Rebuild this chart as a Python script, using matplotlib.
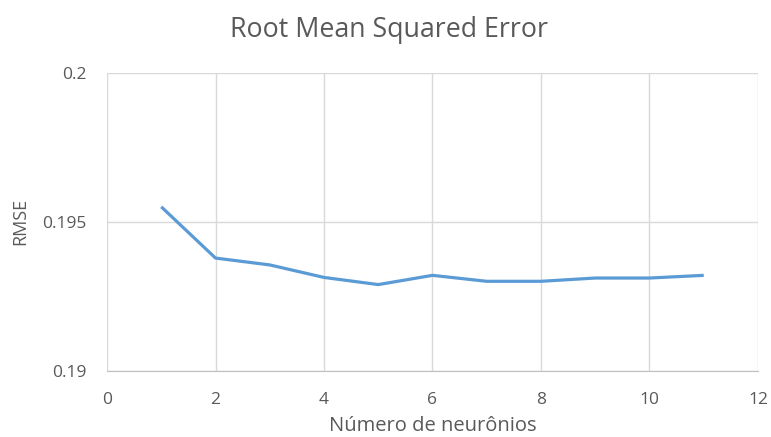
import matplotlib.pyplot as plt

neurons = [1, 2, 3, 4, 5, 6, 7, 8, 9, 10, 11]
rmse = [0.1955, 0.19378, 0.19355, 0.19313, 0.19289, 0.19320, 0.19300, 0.19300, 0.19311, 0.19311, 0.19320]

x_ticks = [0, 2, 4, 6, 8, 10, 12]
y_ticks = [0.19, 0.195, 0.2]
y_labels = ['0.19', '0.195', '0.2']

plt.rcParams['font.family'] = ['Open Sans', 'DejaVu Sans']
text_color = '#595959'
grid_color = '#d9d9d9'

fig = plt.figure(figsize=(7.71, 4.37), dpi=100)
ax = fig.add_axes([0.1388, 0.1517, 0.8443, 0.6819])

ax.plot(neurons, rmse, color='#5b9bd5', linewidth=2.3, solid_capstyle='butt')

ax.set_xlim(0, 12)
ax.set_ylim(0.19, 0.2)
ax.set_xticks(x_ticks)
ax.set_yticks(y_ticks)
ax.set_yticklabels(y_labels)
ax.grid(True, color=grid_color, linewidth=1)
ax.set_axisbelow(True)
for side in ['top', 'right', 'left']:
    ax.spines[side].set_visible(False)
ax.spines['bottom'].set_color('#bfbfbf')
ax.tick_params(length=0, labelsize=12.5, colors=text_color)
ax.tick_params(axis='x', pad=15)
ax.tick_params(axis='y', pad=15)

ax.set_xlabel('Número de neurônios', fontsize=14.5, color=text_color, labelpad=6)
ax.set_ylabel('RMSE', fontsize=13, color=text_color, labelpad=9)
fig.text(0.505, 0.932, 'Root Mean Squared Error', ha='center', va='center',
         fontsize=19.3, color=text_color)

fig.savefig('out.png', dpi=100)
